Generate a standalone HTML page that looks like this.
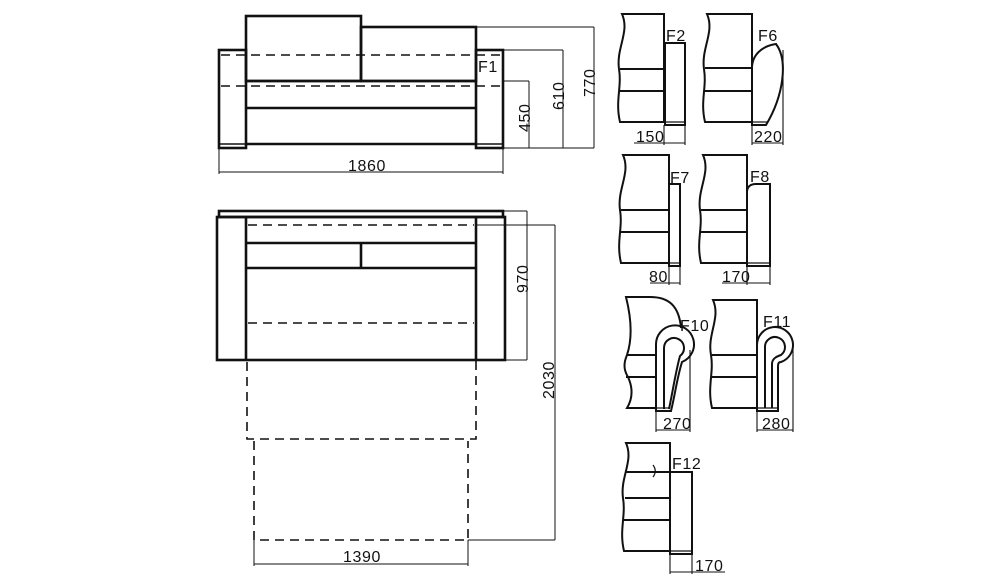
<!DOCTYPE html>
<html><head><meta charset="utf-8"><style>
html,body{margin:0;padding:0;background:#fff;}
svg{display:block}
text{font-family:"Liberation Sans",sans-serif;font-size:16px;fill:#111;letter-spacing:0.6px}
</style></head><body>
<svg width="1000" height="588" viewBox="0 0 1000 588" xmlns="http://www.w3.org/2000/svg">
<g fill="none" stroke="#111" stroke-width="2.6">
<rect x="219" y="50" width="27" height="98"/>
<rect x="476" y="50" width="27" height="98"/>
<rect x="246" y="16" width="115" height="65"/>
<rect x="361" y="27" width="115" height="54"/>
<line x1="246" y1="81" x2="476" y2="81"/>
<line x1="246" y1="108" x2="476" y2="108"/>
<line x1="246" y1="144" x2="476" y2="144"/>
<line x1="219" y1="144" x2="246" y2="144" stroke-width="1.5"/>
<line x1="476" y1="144" x2="503" y2="144" stroke-width="1.5"/>
<rect x="219" y="211" width="284" height="6"/>
<rect x="217" y="217" width="288" height="143"/>
<line x1="246" y1="217" x2="246" y2="360"/>
<line x1="476" y1="217" x2="476" y2="360"/>
<line x1="246" y1="243" x2="476" y2="243"/>
<line x1="246" y1="268" x2="476" y2="268"/>
<line x1="361" y1="243" x2="361" y2="268"/>
</g>
<g fill="none" stroke="#111" stroke-width="1.6" stroke-dasharray="9,6">
<line x1="221" y1="55" x2="500" y2="55"/>
<line x1="221" y1="86" x2="500" y2="86"/>
<line x1="248" y1="225" x2="474" y2="225"/>
<line x1="248" y1="323" x2="474" y2="323"/>
<path d="M247,362 V439 H476 V360"/>
<path d="M254,441 V540 H468 V441"/>
</g>
<g fill="none" stroke="#111" stroke-width="1">
<path d="M476,27 H594 M503,50 H563 M503,81 H529 M503,148 H594"/>
<path d="M529,81 V148 M563,50 V148 M594,27 V148"/>
<path d="M219,148 V174 M503,148 V174 M219,172 H503"/>
<path d="M503,211 H527 M505,360 H527 M527,211 V360"/>
<path d="M476,225 H555 M555,225 V540 M468,540 H555"/>
<path d="M254,540 V566 M468,540 V566 M254,564 H468"/>
</g>
<g fill="none" stroke="#111" stroke-width="1.1">
<path d="M685,125 V145 M664,125 V145 M634,143 H685"/>
<path d="M752,125 V145 M783,50 V145 M752,143 H783"/>
<path d="M669,266 V285 M680,266 V285 M650,283 H680"/>
<path d="M747,266 V285 M770,266 V285 M722,283 H770"/>
<path d="M656,411 V432 M690,350 V432 M656,430 H690"/>
<path d="M757,411 V432 M793,345 V432 M757,430 H793"/>
<path d="M670,554 V574 M692,554 V574 M670,572 H725"/>
</g>
<g fill="none" stroke="#111" stroke-width="2">
<path d="M664,14 H622 c8,18 -6,34 -3,55 c3,18 -4,32 1,53 H664 Z"/>
<path d="M620,69 H664 M619,91 H664"/>
<rect x="665" y="43" width="20" height="82"/>
<line x1="665" y1="122" x2="685" y2="122" stroke-width="1.2"/>
<path d="M752,14 H707 c8,18 -6,34 -3,55 c3,18 -4,32 1,53 H752 Z"/>
<path d="M705,68 H752 M704,91 H752"/>
<path d="M752,68 C752,55 762,46 776,44 C788,60 784,95 766,125 H752 Z"/>
<line x1="752" y1="122" x2="768" y2="122" stroke-width="1.2"/>
<path d="M669,155 H623 c8,18 -6,34 -3,55 c3,18 -4,32 1,53 H669 Z"/>
<path d="M621,210 H669 M620,232 H669"/>
<rect x="669" y="184" width="11" height="82"/>
<line x1="669" y1="263" x2="680" y2="263" stroke-width="1.2"/>
<path d="M747,155 H703 c8,18 -6,34 -3,55 c3,18 -4,32 1,53 H747 Z"/>
<path d="M701,210 H747 M700,232 H747"/>
<path d="M747,266 V191 Q748,184 756,184 H770 V266 Z"/>
<line x1="747" y1="263" x2="770" y2="263" stroke-width="1.2"/>
<path d="M656,408 H627 c6,-10 6,-20 1,-31 c-5,-8 -4,-15 -1,-22 c6,-18 4,-38 -1,-58 H650 C668,297 679,305 681,328"/>
<path d="M627,355 H656 M626,377 H656"/>
<path d="M656,411 V345 A19,19 0 1 1 682,362 C677,378 675,395 671,411 Z"/>
<path d="M664,409 V348 A10,10 0 1 1 680,356 C676,370 673,390 669,409"/>
<line x1="656" y1="408" x2="670" y2="408" stroke-width="1.2"/>
<path d="M757,300 H713 c8,18 -6,34 -2,55 c3,18 -4,32 1,53 H757 Z"/>
<path d="M712,355 H757 M712,377 H757"/>
<path d="M757,411 V345 A18,18 0 1 1 781,362 C778,362 778,364 778,368 V411 Z"/>
<path d="M765,408 V348 A10,10 0 1 1 781,355 C778,356 772,358 772,364 V408"/>
<line x1="757" y1="408" x2="778" y2="408" stroke-width="1.2"/>
<path d="M670,443 H626 c8,18 -6,34 -3,55 c3,18 -4,32 1,53 H670 Z"/>
<path d="M625,472 H670 M625,498 H670 M624,520 H670"/>
<rect x="670" y="472" width="22" height="82"/>
<line x1="670" y1="551" x2="692" y2="551" stroke-width="1.2"/>
<path d="M653,465 c3,4 3,8 0,12" stroke-width="1.2"/>
</g>
<text x="478" y="72">F1</text>
<text x="348" y="171">1860</text>
<text transform="translate(530,132) rotate(-90)">450</text>
<text transform="translate(564,110) rotate(-90)">610</text>
<text transform="translate(595,97) rotate(-90)">770</text>
<text transform="translate(528,293) rotate(-90)">970</text>
<text transform="translate(554,399) rotate(-90)">2030</text>
<text x="343" y="562">1390</text>
<text x="666" y="41" font-size="15">F2</text>
<text x="758" y="41" font-size="15">F6</text>
<text x="670" y="183" font-size="15">F7</text>
<text x="750" y="182" font-size="15">F8</text>
<text x="680" y="331" font-size="15">F10</text>
<text x="763" y="327" font-size="15">F11</text>
<text x="672" y="469" font-size="15">F12</text>
<text x="636" y="142" font-size="15">150</text>
<text x="754" y="142" font-size="15">220</text>
<text x="649" y="282" font-size="15">80</text>
<text x="722" y="282" font-size="15">170</text>
<text x="663" y="429" font-size="15">270</text>
<text x="762" y="429" font-size="15">280</text>
<text x="695" y="571" font-size="15">170</text>
</svg>
</body></html>
